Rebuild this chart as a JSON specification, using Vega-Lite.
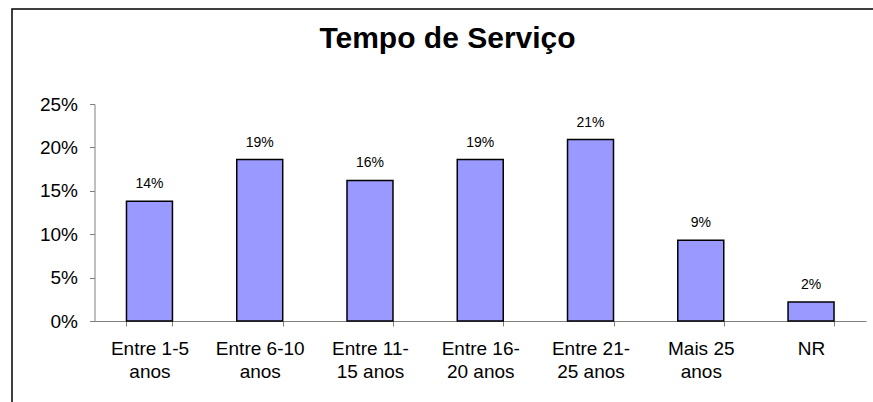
{
  "$schema": "https://vega.github.io/schema/vega-lite/v6.json",
  "width": 863,
  "height": 395,
  "autosize": {"type": "none"},
  "padding": {"left": 12, "top": 9, "right": 0, "bottom": 0},
  "background": "white",
  "config": {
    "font": "Liberation Sans",
    "view": {"stroke": "black", "strokeWidth": 1.5}
  },
  "title": {
    "text": "Tempo de Serviço",
    "fontSize": 30,
    "fontWeight": "bold",
    "font": "Liberation Sans",
    "color": "black",
    "anchor": "middle",
    "frame": "group",
    "baseline": "alphabetic",
    "offset": 0,
    "dy": 69,
    "dx": 4
  },
  "data": {
    "values": [
      {"cat": "Entre 1-5\nanos", "pct": 0.138},
      {"cat": "Entre 6-10\nanos", "pct": 0.186},
      {"cat": "Entre 11-\n15 anos", "pct": 0.162},
      {"cat": "Entre 16-\n20 anos", "pct": 0.186},
      {"cat": "Entre 21-\n25 anos", "pct": 0.209},
      {"cat": "Mais 25\nanos", "pct": 0.093},
      {"cat": "NR", "pct": 0.022}
    ]
  },
  "encoding": {
    "x": {
      "field": "cat",
      "type": "nominal",
      "sort": null,
      "scale": {"range": [82.5, 854], "paddingInner": 0.583, "paddingOuter": 0.29},
      "axis": {
        "title": null,
        "orient": "bottom",
        "offset": -83,
        "labelAngle": 0,
        "tickBand": "extent",
        "domainColor": "#808080",
        "tickColor": "#808080",
        "tickSize": 5,
        "labelFontSize": 19,
        "labelColor": "black",
        "labelPadding": 28,
        "labelBaseline": "alphabetic",
        "labelLineHeight": 23,
        "labelLimit": 0,
        "labelExpr": "isString(datum.value) ? split(datum.value, '\\n') : ''"
      }
    },
    "y": {
      "field": "pct",
      "type": "quantitative",
      "scale": {"domain": [0, 0.25], "range": [312, 95], "nice": false},
      "axis": {
        "title": null,
        "offset": -82.5,
        "values": [0, 0.05, 0.1, 0.15, 0.2, 0.25],
        "format": ".0%",
        "grid": false,
        "domainColor": "#808080",
        "tickColor": "#808080",
        "tickSize": 5,
        "labelFontSize": 19,
        "labelPadding": 12,
        "labelColor": "black"
      }
    }
  },
  "layer": [
    {"mark": {"type": "bar", "fill": "#9999FF", "stroke": "black", "strokeWidth": 1.5}},
    {
      "mark": {"type": "text", "dy": -13, "baseline": "alphabetic", "fontSize": 14, "color": "black"},
      "encoding": {"text": {"field": "pct", "type": "quantitative", "format": ".0%"}}
    }
  ]
}
